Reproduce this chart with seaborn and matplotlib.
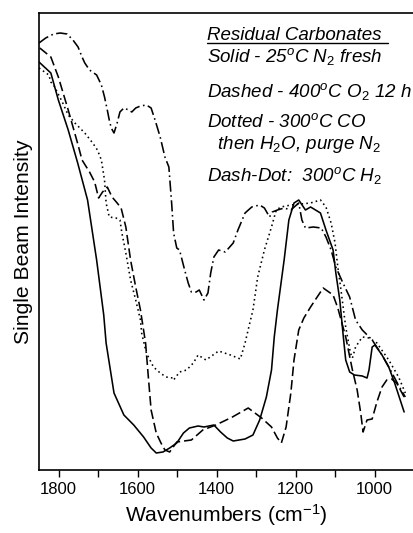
import numpy as np
import pandas as pd
import matplotlib
matplotlib.use("Agg")
import matplotlib.pyplot as plt
import seaborn as sns

# ---- data (wavenumber in cm^-1, single beam intensity in arbitrary units) ----
solid_wn = [1850, 1820, 1801, 1776, 1752, 1727, 1704, 1686, 1680, 1660, 1635, 1610, 1585,
            1566, 1553, 1536, 1519, 1501, 1484, 1469, 1447, 1432, 1407, 1390, 1373, 1358,
            1328, 1308, 1291, 1274, 1261, 1254, 1246, 1229, 1217, 1204, 1192, 1175, 1162,
            1137, 1123, 1105, 1098, 1088, 1080, 1073, 1063, 1051, 1031, 1019, 1014, 1006,
            999, 981, 964, 949, 925]
solid_i = [408, 397, 370, 340, 307, 270, 210, 155, 127, 77, 55, 45, 33,
           22, 17, 18, 22, 27, 37, 42, 44, 43, 45, 38, 32, 29,
           31, 35, 50, 73, 100, 133, 160, 210, 250, 267, 270, 260, 263,
           257, 240, 220, 197, 170, 137, 110, 98, 95, 94, 92, 100, 123,
           125, 115, 103, 87, 58]

dashed_wn = [1848, 1820, 1801, 1776, 1751, 1741, 1722, 1709, 1699, 1689, 1677, 1665, 1652,
             1642, 1630, 1618, 1605, 1593, 1580, 1573, 1566, 1553, 1541, 1531, 1519, 1501,
             1464, 1435, 1402, 1360, 1320, 1286, 1261, 1246, 1236, 1224, 1212, 1204, 1192,
             1179, 1162, 1147, 1130, 1105, 1093, 1073, 1056, 1044, 1035, 1029, 1019, 1006,
             994, 981, 969, 957, 944, 925]
dashed_i = [422, 413, 393, 360, 325, 310, 298, 288, 272, 278, 283, 273, 267,
            262, 243, 210, 183, 160, 127, 93, 60, 37, 27, 20, 18, 28,
            30, 40, 45, 53, 62, 52, 43, 32, 27, 43, 77, 110, 140,
            152, 163, 172, 182, 175, 162, 133, 100, 80, 57, 38, 50, 51,
            68, 83, 90, 91, 87, 73]

dotted_wn = [1850, 1825, 1820, 1813, 1791, 1776, 1759, 1734, 1714, 1702, 1692, 1684, 1680,
             1672, 1655, 1645, 1640, 1630, 1618, 1605, 1593, 1590, 1578, 1560, 1543, 1528,
             1511, 1509, 1494, 1476, 1459, 1447, 1427, 1395, 1365, 1340, 1328, 1316, 1308,
             1296, 1279, 1261, 1249, 1237, 1212, 1162, 1137, 1123, 1110, 1100, 1093, 1085,
             1073, 1061, 1056, 1048, 1031, 1014, 994, 964, 939, 922]
dotted_i = [402, 395, 388, 385, 368, 355, 347, 337, 327, 320, 310, 290, 267,
            253, 252, 250, 237, 217, 190, 170, 150, 137, 117, 103, 97, 93,
            92, 90, 98, 100, 107, 115, 110, 119, 115, 111, 127, 147, 160,
            193, 220, 243, 260, 263, 265, 267, 270, 263, 247, 227, 203, 180,
            143, 117, 112, 123, 133, 132, 127, 110, 93, 77]

dashdot_wn = [1850, 1833, 1813, 1796, 1779, 1764, 1751, 1741, 1734, 1722, 1704, 1692, 1684,
              1677, 1672, 1667, 1660, 1652, 1645, 1635, 1623, 1615, 1605, 1593, 1578, 1566,
              1556, 1543, 1531, 1521, 1514, 1509, 1501, 1494, 1481, 1472, 1464, 1452, 1444,
              1432, 1422, 1415, 1407, 1395, 1378, 1358, 1346, 1328, 1311, 1291, 1279, 1266,
              1259, 1246, 1229, 1212, 1192, 1184, 1175, 1155, 1135, 1123, 1110, 1098, 1080,
              1063, 1048, 1031, 1006, 981, 957, 937, 922]
dashdot_i = [427, 432, 436, 437, 436, 430, 423, 413, 407, 400, 395, 385, 373,
             360, 350, 342, 337, 347, 358, 362, 360, 358, 362, 364, 365, 362,
             350, 333, 313, 303, 267, 237, 222, 220, 200, 187, 178, 178, 180,
             170, 177, 197, 213, 220, 218, 227, 240, 257, 263, 265, 262, 253,
             258, 260, 262, 260, 267, 250, 242, 243, 242, 233, 220, 203, 187,
             173, 150, 140, 130, 115, 98, 83, 73]

xticks_major = [1800, 1600, 1400, 1200, 1000]
xticks_minor = [1700, 1500, 1300, 1100, 900]

legend_title = "Residual Carbonates"
legend_lines = [
    r"Solid - 25$^o$C N$_\mathit{2}$ fresh",
    r"Dashed - 400$^o$C O$_\mathit{2}$ 12 h",
    r"Dotted - 300$^o$C CO",
    r"  then H$_\mathit{2}$O, purge N$_\mathit{2}$",
    r"Dash-Dot:  300$^o$C H$_\mathit{2}$",
]

# ---- style ----
sns.set_theme(style="ticks")
plt.rcParams["font.family"] = ["Liberation Sans", "DejaVu Sans"]
plt.rcParams["mathtext.fontset"] = "custom"
plt.rcParams["mathtext.rm"] = "Liberation Sans"
plt.rcParams["mathtext.it"] = "Liberation Sans:italic"
plt.rcParams["mathtext.bf"] = "Liberation Sans:bold"
plt.rcParams["text.color"] = "black"
plt.rcParams["axes.labelcolor"] = "black"
plt.rcParams["xtick.color"] = "black"
plt.rcParams["xtick.labelcolor"] = "black"

fig = plt.figure(figsize=(4.14, 5.33), dpi=100)
ax = fig.add_axes([39 / 414, 1 - 470 / 533, 1.0 - 39 / 414, (470 - 13) / 533])

series = [
    (solid_wn, solid_i, "-"),
    (dashed_wn, dashed_i, (0, (6, 2.5))),
    (dotted_wn, dotted_i, (0, (1, 2.0))),
    (dashdot_wn, dashdot_i, (0, (7, 2.2, 1, 2.2))),
]
for wn, inten, ls in series:
    df = pd.DataFrame({"wn": wn, "I": inten})
    sns.lineplot(data=df, x="wn", y="I", ax=ax, color="black", lw=1.15,
                 sort=False, estimator=None)
    ax.lines[-1].set_linestyle(ls)

ax.set_xlim(1850, 927.5)
ax.set_ylim(0, 457)
ax.set_xticks(xticks_major)
ax.set_xticks(xticks_minor, minor=True)
ax.set_yticks([])
ax.tick_params(axis="x", which="both", direction="out", length=5, width=1.0,
               labelsize=12, pad=4, color="black", labelcolor="black")
for s in ["left", "bottom", "top"]:
    ax.spines[s].set_linewidth(1.2)
    ax.spines[s].set_color("black")
ax.spines["right"].set_visible(False)

ax.set_xlabel("Wavenumbers (cm$^{-1}$)", fontsize=15.2, labelpad=3, color="black")
ax.set_ylabel("Single Beam Intensity", fontsize=15.2, labelpad=4, color="black")

# ---- annotation text (figure pixel positions converted to fractions) ----
def fy(py):
    return 1 - py / 533

ann_size = 13.5
fig.text(207 / 414, fy(40), legend_title, fontsize=ann_size, style="italic",
         va="baseline", ha="left", color="black")
fig.add_artist(plt.Line2D([207 / 414, 388 / 414], [fy(42.5), fy(42.5)],
                          color="black", lw=1.0))
bases = [62, 97, 127, 149, 181]
for t, b in zip(legend_lines, bases):
    fig.text(207 / 414, fy(b), t, fontsize=ann_size, style="italic",
             va="baseline", ha="left", color="black")

fig.savefig("out.png", dpi=100)
